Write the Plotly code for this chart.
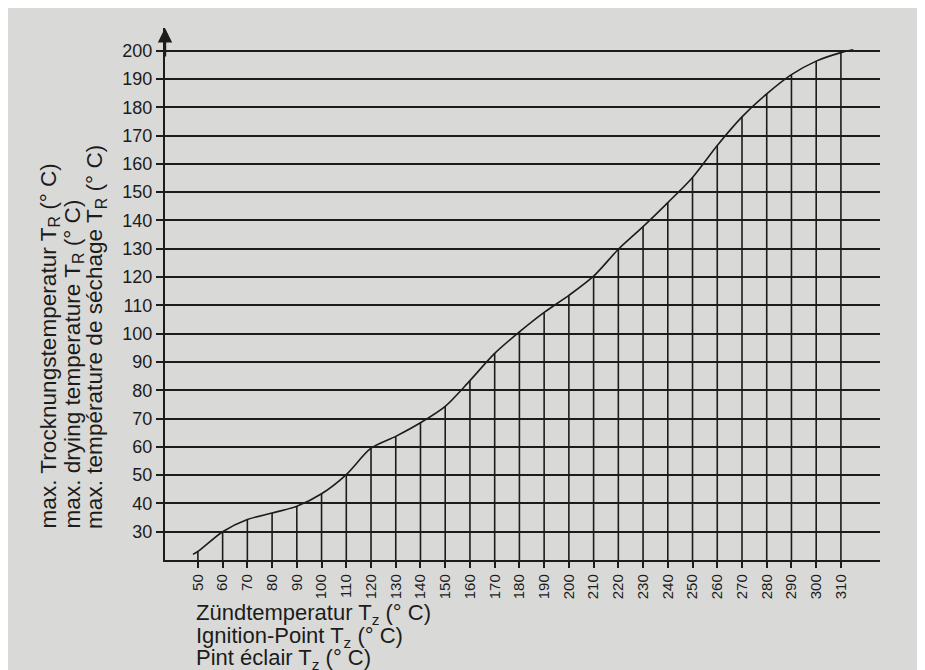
import plotly.graph_objects as go

# ---- data ----
x_ticks = list(range(50, 320, 10))
y_ticks = list(range(30, 210, 10))
drop_y = [23, 30, 34.3, 36.6, 39, 43.4, 50.2, 59.5, 63.7, 68.5, 74.3, 83.4, 93,
          100.6, 107.5, 113.5, 120.3, 129.8, 137.8, 146.3, 155.2, 166.5, 176.6,
          184.7, 191.5, 196.3, 199.3]
curve_start = (48, 22)
curve_end = (315, 200.3)

y_title_lines = [
    "max. Trocknungstemperatur T<sub>R</sub> (° C)",
    "max. drying temperature T<sub>R</sub> (° C)",
    "max. température de séchage T<sub>R</sub> (° C)",
]
x_title_lines = [
    "Zündtemperatur T<sub>z</sub> (° C)",
    "Ignition-Point T<sub>z</sub> (° C)",
    "Pint éclair T<sub>z</sub> (° C)",
]

Y0 = 20
XMIN, XMAX = 36.7, 325.8
YMAX = 208
INK = "#1c1c1c"
BG = "#d9dad8"

curve_x = [curve_start[0]] + x_ticks + [curve_end[0]]
curve_y = [curve_start[1]] + drop_y + [curve_end[1]]

drop_x_pts, drop_y_pts = [], []
for xv, yv in zip(x_ticks, drop_y):
    drop_x_pts += [xv, xv, None]
    drop_y_pts += [Y0, yv, None]

fig = go.Figure()
fig.add_trace(go.Scatter(x=drop_x_pts, y=drop_y_pts, mode="lines",
                         line=dict(color=INK, width=1.6), hoverinfo="skip",
                         showlegend=False))
fig.add_trace(go.Scatter(x=curve_x, y=curve_y, mode="lines",
                         line=dict(color=INK, width=1.6, shape="spline", smoothing=0.8),
                         showlegend=False))

OFF = 8  # page body margin
W, H = 925, 670
L = 165 - OFF
T = 28 - OFF
B = H - (560 - OFF)
R = W - (880 - OFF)
pw, ph = W - L - R, H - T - B

def px_x(page_px):
    return (page_px - OFF - L) / pw

def px_y(page_py):
    return (H - B - (page_py - OFF)) / ph

annotations = []
# y-title: three rotated lines, left aligned at the bottom
for txt, cx in zip(y_title_lines, [49, 73, 96]):
    annotations.append(dict(text=txt, xref="paper", yref="paper",
                            x=px_x(cx), y=px_y(531),
                            xanchor="center", yanchor="bottom", textangle=-90,
                            showarrow=False, font=dict(size=22.6, color=INK)))
# x-title: three lines
for txt, cy in zip(x_title_lines, [614, 637, 659]):
    annotations.append(dict(text=txt, xref="paper", yref="paper",
                            x=px_x(194), y=px_y(cy),
                            xanchor="left", yanchor="middle",
                            showarrow=False, font=dict(size=22, color=INK)))
# axis arrows
annotations.append(dict(x=XMIN, y=YMAX, xref="x", yref="y", ax=0, ay=30,
                        showarrow=True, arrowhead=2, arrowsize=1.2, arrowwidth=2.4,
                        arrowcolor=INK, text=""))
annotations.append(dict(x=XMAX + 1.5, y=Y0, xref="x", yref="y", ax=-30, ay=0,
                        showarrow=True, arrowhead=2, arrowsize=1.2, arrowwidth=2.4,
                        arrowcolor=INK, text=""))

fig.update_layout(
    width=W, height=H,
    margin=dict(l=L, r=R, t=T, b=B),
    paper_bgcolor=BG, plot_bgcolor=BG,
    font=dict(family="Liberation Sans, Arial, sans-serif", color=INK),
    showlegend=False,
    annotations=annotations,
    xaxis=dict(range=[XMIN, XMAX], tickvals=x_ticks, ticktext=[str(v) for v in x_ticks],
               tickangle=-90, showgrid=False, zeroline=False, showline=True,
               linecolor=INK, linewidth=2.4, ticks="outside", ticklen=6, tickwidth=1.6,
               tickcolor=INK, tickfont=dict(size=15, color=INK)),
    yaxis=dict(range=[Y0, YMAX], tickvals=y_ticks, ticktext=[str(v) for v in y_ticks],
               showgrid=True, gridcolor=INK, gridwidth=1.5, zeroline=False,
               showline=True, linecolor=INK, linewidth=2.4, ticks="outside",
               ticklen=7, tickwidth=1.6, tickcolor=INK,
               tickfont=dict(size=18, color=INK)),
)

fig.write_html("out.html",
               post_script="document.documentElement.style.overflow='hidden';"
                           "document.body.style.overflow='hidden';")
